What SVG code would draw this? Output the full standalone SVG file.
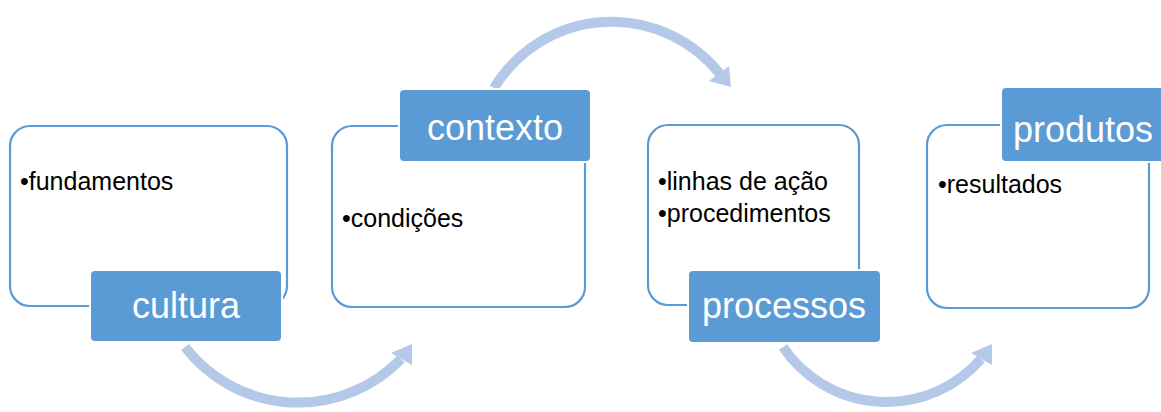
<svg xmlns="http://www.w3.org/2000/svg" width="1161" height="412" viewBox="0 0 1161 412">
<style>
.box{fill:#ffffff;stroke:#5b9bd5;stroke-width:2.2}
.lab{fill:#5b9bd5;stroke:#ffffff;stroke-width:2}
.lt{font-family:"Liberation Sans",Arial,sans-serif;font-size:36px;fill:#ffffff;text-anchor:middle}
.bt{font-family:"Liberation Sans",Arial,sans-serif;font-size:25px;fill:#000000}
.arc{fill:none;stroke:#b4c8e8;stroke-width:10}
.head{fill:#b4c8e8}
</style>
<rect width="1161" height="412" fill="#ffffff"/>
<g id="connectors">
<path class="arc" d="M185,347 A143,143 0 0 0 401,359"/>
<polygon class="head" points="391,353 412,344 412,365"/>
<path class="arc" d="M494,88 A138,138 0 0 1 720,74"/>
<polygon class="head" points="709,81 729,66 731,87"/>
<path class="arc" d="M783,347 A125,125 0 0 0 981,359"/>
<polygon class="head" points="971,353 992,344 992,365"/>
</g>
<g id="node-cultura">
<rect class="box" x="10" y="126" width="277" height="180" rx="20"/>
<text class="bt" x="20" y="190">•fundamentos</text>
<rect class="lab" x="90" y="270" width="192" height="72" rx="5"/>
<text class="lt" x="186" y="318">cultura</text>
</g>
<g id="node-contexto">
<rect class="box" x="332" y="126" width="253" height="181" rx="20"/>
<text class="bt" x="342" y="227">•condições</text>
<rect class="lab" x="399" y="89" width="192" height="73" rx="5"/>
<text class="lt" x="495" y="140">contexto</text>
</g>
<g id="node-processos">
<rect class="box" x="648" y="125" width="211" height="180" rx="20"/>
<text class="bt" x="658" y="190">•linhas de ação</text>
<text class="bt" x="658" y="222">•procedimentos</text>
<rect class="lab" x="688" y="270" width="193" height="73" rx="5"/>
<text class="lt" x="784" y="318">processos</text>
</g>
<g id="node-produtos">
<rect class="box" x="927" y="125" width="222" height="183" rx="20"/>
<text class="bt" x="938" y="193">•resultados</text>
<rect class="lab" x="1001" y="87" width="192" height="75" rx="5"/>
<text class="lt" x="1013" y="142" style="text-anchor:start">produtos</text>
</g>
</svg>
